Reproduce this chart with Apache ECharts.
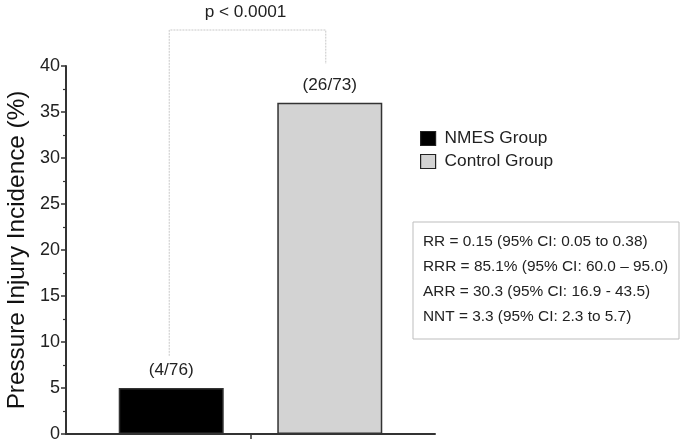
<!DOCTYPE html>
<html>
<head>
<meta charset="utf-8">
<script src="https://cdn.jsdelivr.net/npm/echarts@6/dist/echarts.min.js"></script>
<style>html,body{margin:0;padding:0;background:#fff}#c{width:685px;height:447px}</style>
</head>
<body>
<div id="c"></div>
<script>
var groups = ['NMES Group', 'Control Group'];
var incidence = [5, 36];
var countLabels = ['(4/76)', '(26/73)'];
var yTicks = [0, 5, 10, 15, 20, 25, 30, 35, 40];
var pText = 'p < 0.0001';
var statLines = [
  'RR = 0.15 (95% CI: 0.05 to 0.38)',
  'RRR = 85.1% (95% CI: 60.0 \u2013 95.0)',
  'ARR = 30.3 (95% CI: 16.9 - 43.5)',
  'NNT = 3.3 (95% CI: 2.3 to 5.7)'
];
var barColors = ['#000000', '#d3d3d3'];

var FONT = 'Liberation Sans, Arial, sans-serif';
var chart = echarts.init(document.getElementById('c'));

var series = groups.map(function (g, i) {
  return {
    name: g,
    type: 'bar',
    data: [incidence[i]],
    barWidth: 105,
    barGap: '51%',
    itemStyle: { color: barColors[i], borderColor: '#333', borderWidth: 1.5 },
    label: {
      show: true, position: 'top', distance: 9,
      formatter: countLabels[i],
      fontFamily: FONT, fontSize: 17.2, color: '#222'
    },
    emphasis: { disabled: true }
  };
});

chart.setOption({
  animation: false,
  textStyle: { fontFamily: FONT },
  grid: { left: 66, right: 250, top: 66, bottom: 13, containLabel: false, outerBoundsMode: 'none' },
  legend: {
    data: groups.map(function (g, i) {
      return { name: g, itemStyle: { color: barColors[i], borderColor: '#222', borderWidth: 1.2 } };
    }),
    orient: 'vertical',
    left: 420, top: 130, padding: 0,
    icon: 'rect', itemWidth: 15, itemHeight: 14, itemGap: 6,
    textStyle: { fontFamily: FONT, fontSize: 17.3, color: '#222', padding: [0, 0, 0, 4] },
    selectedMode: false
  },
  xAxis: {
    type: 'category',
    data: [''],
    axisLine: { lineStyle: { color: '#333', width: 2 } },
    axisTick: { show: true, alignWithLabel: true, length: 5, lineStyle: { color: '#333', width: 1.5 } },
    axisLabel: { show: false }
  },
  yAxis: {
    type: 'value',
    min: yTicks[0], max: yTicks[yTicks.length - 1], interval: 5,
    name: 'Pressure Injury Incidence (%)',
    nameLocation: 'middle', nameGap: 36, nameRotate: 90,
    nameTextStyle: { fontFamily: FONT, fontSize: 24.3, color: '#111' },
    axisLine: { show: true, lineStyle: { color: '#333', width: 2 } },
    axisTick: { show: true, length: 5, lineStyle: { color: '#333', width: 1.5 } },
    minorTick: { show: true, splitNumber: 2, length: 3, lineStyle: { color: '#333', width: 1.2 } },
    splitLine: { show: false },
    axisLabel: { fontFamily: FONT, fontSize: 18, color: '#222', margin: 6 }
  },
  series: series
});

function drawAnnotations() {
  var l0 = chart.getModel().getSeriesByIndex(0).getData().getItemLayout(0);
  var l1 = chart.getModel().getSeriesByIndex(1).getData().getItemLayout(0);
  var x0 = l0.x + l0.width / 2 - 2;
  var x1 = l1.x + l1.width / 2 - 4;
  var yTop = 30;
  var yLeftEnd = chart.convertToPixel({ yAxisIndex: 0 }, 8.5);
  var yRightEnd = 64;
  var dash = { stroke: '#c8c8c8', lineWidth: 1, lineDash: [2, 1] };
  var boxX = 413, boxY = 222, boxW = 266, boxH = 117;
  var graphics = [
    { type: 'polyline', silent: true, shape: { points: [[x0, yLeftEnd], [x0, yTop], [x1, yTop], [x1, yRightEnd]] }, style: dash },
    { type: 'text', silent: true, x: (x0 + x1) / 2 - 2, y: 12,
      style: { text: pText, fontFamily: FONT, fontSize: 17.2, fill: '#222', align: 'center', verticalAlign: 'middle' } },
    { type: 'rect', silent: true, shape: { x: boxX, y: boxY, width: boxW, height: boxH },
      style: { fill: '#fff', stroke: '#bdbdbd', lineWidth: 1 } }
  ];
  statLines.forEach(function (t, i) {
    graphics.push({ type: 'text', silent: true, x: 423, y: 242 + i * 25,
      style: { text: t, fontFamily: FONT, fontSize: 15.4, fill: '#222', verticalAlign: 'middle' } });
  });
  chart.setOption({ graphic: graphics });
}
drawAnnotations();
</script>
</body>
</html>
